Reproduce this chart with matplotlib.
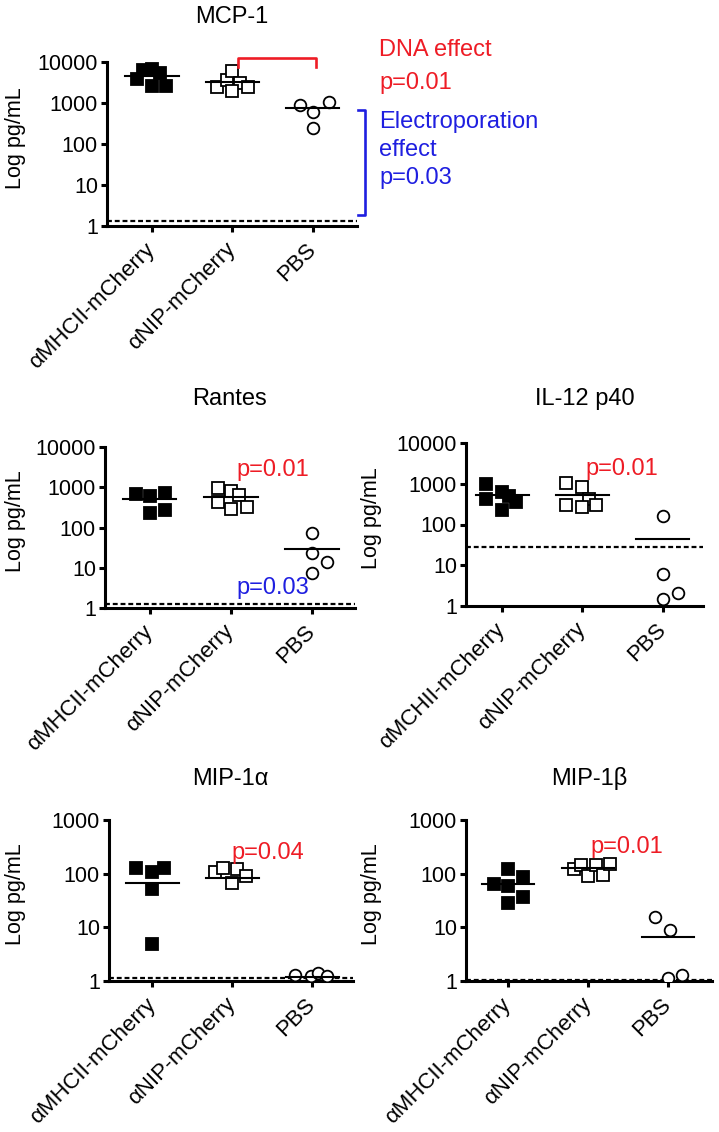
import matplotlib
matplotlib.use("Agg")
import matplotlib.pyplot as plt
import numpy as np
from matplotlib.lines import Line2D

plt.rcParams["font.family"] = ["Liberation Sans", "DejaVu Sans"]

# ── data (pg/mL) ────────────────────────────────────────────────────────────
groups = ["αMHCII-mCherry", "αNIP-mCherry", "PBS"]
groups_il12 = ["αMCHII-mCherry", "αNIP-mCherry", "PBS"]

mcp1_mhc = [3900, 6240, 6860, 5360, 2670, 2670]
mcp1_nip = [2520, 3540, 6120, 3070, 1970, 2430]
mcp1_pbs = [890, 590, 1075, 247]
mcp1_means = [4440, 3330, 740]

rantes_mhc = [690, 594, 718, 235, 268]
rantes_nip = [953, 789, 625, 430, 295, 323]
rantes_pbs = [73.5, 22.8, 14.2, 7.3]
rantes_means = [520, 570, 28.6]

il12_mhc = [1000, 624, 507, 427, 354, 229]
il12_nip = [1038, 828, 427, 293, 267, 293]
il12_pbs = [163, 6.1, 2.05, 1.49]
il12_means = [520, 520, 43.6]

mip1a_mhc = [126, 109, 126, 51, 4.9]
mip1a_nip = [109, 126, 122, 90, 66]
mip1a_pbs = [1.3, 1.22, 1.4, 1.25]
mip1a_means = [68, 84, 1.2]

mip1b_mhc = [64, 120, 88, 59, 36, 29]
mip1b_nip = [122, 145, 90, 145, 94, 151]
mip1b_pbs = [15.4, 8.9, 1.12, 1.29]
mip1b_means = [64, 125, 6.7]

# detection limits (dashed lines)
lod = {"mcp1": 1.3, "rantes": 1.27, "il12": 28, "mip1a": 1.12, "mip1b": 1.05}

# horizontal scatter of the dots inside each column (layout only)
jit_mcp1 = [[-0.19, -0.11, 0, 0.10, 0, 0.18], [-0.19, -0.07, 0, 0.09, 0, 0.19], [-0.16, 0, 0.2, 0]]
jit_rantes = [[-0.17, 0, 0.19, 0, 0.19], [-0.16, 0, 0.1, -0.16, 0, 0.2], [0, 0, 0.19, 0]]
jit_il12 = [[-0.2, 0, 0.09, -0.2, 0.17, 0], [-0.2, 0, 0.08, -0.2, 0, 0.17], [0, 0, 0.19, 0]]
jit_mip1a = [[-0.2, 0, 0.15, 0, 0], [-0.21, -0.11, 0.06, 0.17, 0], [-0.21, -0.02, 0.07, 0.19]]
jit_mip1b = [[-0.18, 0, 0.19, 0, 0.19, 0], [-0.18, -0.09, 0, 0.1, 0.19, 0.27], [-0.16, 0.03, 0, 0.18]]

RED = "#ee1c25"
BLUE = "#1f1fe0"
W, H = 719, 1132

fig = plt.figure(figsize=(W / 100, H / 100), dpi=100)


def P(x, y):
    """pixel (from top-left) -> figure fraction"""
    return x / W, 1 - y / H


def panel(box, xlim, ymax, series, jits, means, dash, labels, title, title_xy, ylab_x):
    left, top, right, bottom = box
    ax = fig.add_axes([left / W, 1 - bottom / H, (right - left) / W, (bottom - top) / H])
    ax.set_yscale("log")
    ax.set_ylim(1, ymax)
    ax.set_xlim(*xlim)
    styles = [dict(marker="s", mfc="black", mec="black"),
              dict(marker="s", mfc="white", mec="black"),
              dict(marker="o", mfc="white", mec="black")]
    ax.axhline(dash, color="black", lw=1.6, ls=(0, (2.2, 1.3)), zorder=2)
    for i, (vals, jit, st) in enumerate(zip(series, jits, styles)):
        xs = i + np.array(jit)
        ax.plot(xs, vals, ls="none", ms=8.4, mew=1.3, zorder=3, **st)
        ax.plot([i - 0.33, i + 0.33], [means[i], means[i]], color="black", lw=1.5, zorder=4)
    for s in ["top", "right"]:
        ax.spines[s].set_visible(False)
    for s in ["left", "bottom"]:
        ax.spines[s].set_linewidth(2.2)
    ax.minorticks_off()
    ticks = [10 ** k for k in range(int(np.log10(ymax)) + 1)]
    ax.set_yticks(ticks)
    ax.set_yticklabels([str(t) for t in ticks], fontsize=15.5)
    ax.set_xticks(range(3))
    ax.set_xticklabels(labels, rotation=45, ha="right", va="center",
                       rotation_mode="anchor", fontsize=16)
    ax.tick_params(axis="both", direction="out", length=4.5, width=2.2, pad=2)
    ax.tick_params(axis="x", pad=10)
    ax.set_ylabel("Log pg/mL", fontsize=15.5)
    ax.yaxis.set_label_coords(*P(ylab_x, (top + bottom) / 2 - 6), transform=fig.transFigure)
    fig.text(*P(*title_xy), title, ha="center", va="center", fontsize=17)
    return ax


ax1 = panel((107, 62, 357, 226), (-0.56, 2.55), 10000,
            [mcp1_mhc, mcp1_nip, mcp1_pbs], jit_mcp1, mcp1_means, lod["mcp1"],
            groups, "MCP-1", (232, 17), 26)
ax2 = panel((105, 447, 355, 608), (-0.55, 2.53), 10000,
            [rantes_mhc, rantes_nip, rantes_pbs], jit_rantes, rantes_means, lod["rantes"],
            groups, "Rantes", (230, 399), 26)
ax3 = panel((466, 443, 703, 606), (-0.45, 2.5), 10000,
            [il12_mhc, il12_nip, il12_pbs], jit_il12, il12_means, lod["il12"],
            groups_il12, "IL-12 p40", (585, 399), 382)
ax4 = panel((109, 820, 353, 981), (-0.54, 2.51), 1000,
            [mip1a_mhc, mip1a_nip, mip1a_pbs], jit_mip1a, mip1a_means, lod["mip1a"],
            groups, "MIP-1α", (230, 779), 26)
ax5 = panel((466, 820, 712, 981), (-0.525, 2.55), 1000,
            [mip1b_mhc, mip1b_nip, mip1b_pbs], jit_mip1b, mip1b_means, lod["mip1b"],
            groups, "MIP-1β", (589, 779), 382)

# ── annotations ─────────────────────────────────────────────────────────────
# DNA effect bracket (red) and electroporation bracket (blue) on MCP-1
fig.add_artist(Line2D([P(238, 67)[0], P(238, 58)[0], P(316, 58)[0], P(316, 67)[0]],
                      [P(238, 67)[1], P(238, 58)[1], P(316, 58)[1], P(316, 67)[1]],
                      color=RED, lw=1.9))
fig.add_artist(Line2D([P(358, 110)[0], P(365, 110)[0], P(365, 215)[0], P(358, 215)[0]],
                      [P(358, 110)[1], P(365, 110)[1], P(365, 215)[1], P(358, 215)[1]],
                      color=BLUE, lw=1.9))
fig.text(*P(379, 50), "DNA effect", color=RED, fontsize=17, ha="left", va="center")
fig.text(*P(379, 83), "p=0.01", color=RED, fontsize=17, ha="left", va="center")
fig.text(*P(379, 122), "Electroporation", color=BLUE, fontsize=17, ha="left", va="center")
fig.text(*P(379, 150), "effect", color=BLUE, fontsize=17, ha="left", va="center")
fig.text(*P(379, 178), "p=0.03", color=BLUE, fontsize=17, ha="left", va="center")

fig.text(*P(273, 470), "p=0.01", color=RED, fontsize=17, ha="center", va="center")
fig.text(*P(273, 588), "p=0.03", color=BLUE, fontsize=17, ha="center", va="center")
fig.text(*P(622, 469), "p=0.01", color=RED, fontsize=17, ha="center", va="center")
fig.text(*P(268, 853), "p=0.04", color=RED, fontsize=17, ha="center", va="center")
fig.text(*P(627, 847), "p=0.01", color=RED, fontsize=17, ha="center", va="center")

fig.savefig("out.png", dpi=100, facecolor="white")
